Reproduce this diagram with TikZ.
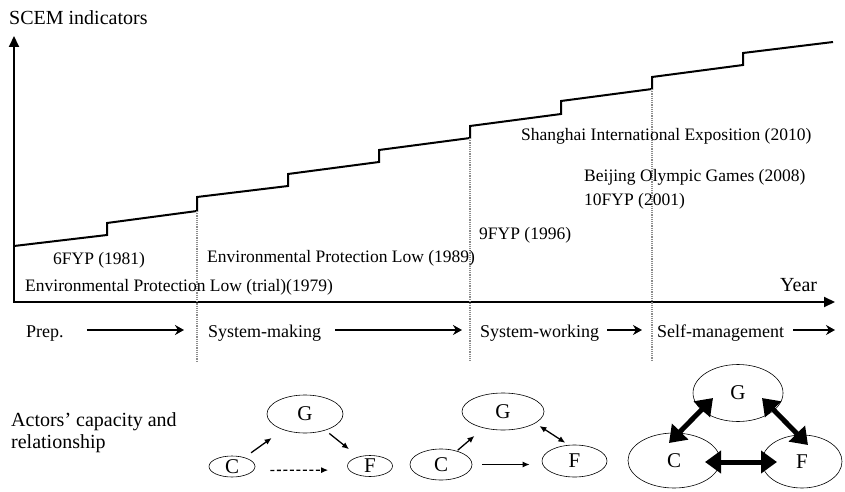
\documentclass[tikz,border=0pt]{standalone}
\usepackage{fontspec}
\setmainfont{Liberation Serif}
\usetikzlibrary{arrows.meta,positioning,shapes.geometric,calc}

\begin{document}
\begin{tikzpicture}[x=1pt,y=-1pt,
  lbl/.style={font=\fontsize{17.5}{20}\selectfont,inner sep=0pt,anchor=base west},
  biglbl/.style={font=\fontsize{20}{22}\selectfont,inner sep=0pt,anchor=base west},
  stage/.style={font=\fontsize{18}{20}\selectfont,inner sep=0pt,text height=14pt,text depth=0pt,anchor=west},
  actor/.style={ellipse,draw,line width=0.6pt,inner sep=0pt,font=\fontsize{21}{24}\selectfont},
  axis/.style={line width=2pt,{Triangle[length=11pt,width=10pt]}-{Triangle[length=11pt,width=10pt]}},
  stagearr/.style={line width=2.2pt,-{Stealth[length=9pt,width=10pt]}},
  smallarr/.style={line width=1.3pt,-{Latex[length=7pt,width=6pt]}},
  bigarr/.style={line width=5pt,{Triangle[length=16pt,width=22pt]}-{Triangle[length=16pt,width=22pt]}}]
% Define colors
\definecolor{phasegray}{RGB}{140,140,140}

\useasboundingbox (0,0) rectangle (845,492);

% Axes
\coordinate (ytop) at (14,36);
\coordinate (origin) at (14,302);
\coordinate (xend) at (835,302);
\draw[axis] (ytop) -- (origin) -- (xend);
\node[biglbl] (ylab) at (9,25) {SCEM indicators};
\node[biglbl] (xlab) at (780,291.7) {Year};

% SCEM indicator steps
\draw[line width=2pt,line join=miter] (14,246) -- (107,235) -- (107,223) -- (197,211) -- (197,197)
  -- (288,186) -- (288,174) -- (379,162) -- (379,150) -- (470,138) -- (470,126)
  -- (561,114) -- (561,101) -- (652,89) -- (652,77) -- (743,65) -- (743,53) -- (833,42);

% Phase borders
\coordinate (m1) at (197,211);
\coordinate (m2) at (470,138);
\coordinate (m3) at (652,89);
\coordinate (low) at (0,361);
\draw[phasegray,line width=1.2pt,densely dotted] (m1) -- (m1 |- low);
\draw[phasegray,line width=1.2pt,densely dotted] (m2) -- (m2 |- low);
\draw[phasegray,line width=1.2pt,densely dotted] (m3) -- (m3 |- low);

% Events
\node[lbl] (fyp6) at (53,264) {6FYP (1981)};
\node[lbl] (eplt) at (25,291.5) {Environmental Protection Low (trial)(1979)};
\node[lbl] (epl) at (207,262.5) {Environmental Protection Low (1989)};
\node[lbl] (fyp9) at (479,239) {9FYP (1996)};
\node[lbl] (fyp10) at (584,205) {10FYP (2001)};
\node[lbl] (olymp) at (584,181) {Beijing Olympic Games (2008)};
\node[lbl] (expo) at (521,140.5) {Shanghai International Exposition (2010)};

% Phases
\node[stage] (prep) at (26,330) {Prep.};
\node[stage] (making) at (208,330) {System-making};
\node[stage] (working) at (480,330) {System-working};
\node[stage] (selfm) at (657,330) {Self-management};
\coordinate (tend) at (835,330);
\draw[stagearr,shorten <=23pt,shorten >=24pt] (prep) -- (making);
\draw[stagearr,shorten <=14pt,shorten >=18pt] (making) -- (working);
\draw[stagearr,shorten <=8pt,shorten >=15pt] (working) -- (selfm);
\draw[stagearr,shorten <=9pt] (selfm) -- (tend);

% Actors
\node[font=\fontsize{20}{22}\selectfont,align=left,anchor=west,inner sep=0pt] (actors) at (11,433)
  {Actors’ capacity and\\relationship};

% first phase
\node[actor,minimum width=76pt,minimum height=38pt] (g1) at (305,414) {G};
\node[actor,minimum width=46pt,minimum height=21pt] (c1) at (232,466.5) {C};
\node[actor,minimum width=45pt,minimum height=21pt] (f1) at (370,466) {F};
\draw[smallarr,shorten <=8pt,shorten >=14pt] (c1) -- (g1);
\draw[smallarr,shorten <=5pt,shorten >=12pt] (g1) -- (f1);
\draw[smallarr,dash pattern=on 4pt off 2.5pt,shorten <=15pt,shorten >=19pt]
  ([yshift=-4pt]c1.east) -- ([yshift=-4pt]f1.west);

% second phase
\node[actor,minimum width=82pt,minimum height=37pt] (g2) at (503,411.5) {G};
\node[actor,minimum width=62pt,minimum height=31pt] (c2) at (441,464.5) {C};
\node[actor,minimum width=65pt,minimum height=32pt] (f2) at (574.5,461) {F};
\draw[smallarr,shorten <=1pt,shorten >=12pt] (c2) -- (g2);
\draw[smallarr,{Latex[length=7pt,width=6pt]}-{Latex[length=7pt,width=6pt]},shorten <=5pt,shorten >=4pt] (g2.-20) -- (f2.110);
\draw[smallarr,shorten <=10pt,shorten >=12pt] (c2.east) -- (f2.west |- c2.east);

% third phase
\node[actor,minimum width=90pt,minimum height=57pt] (g3) at (738,393) {G};
\node[actor,minimum width=92pt,minimum height=55pt] (c3) at (674,460.5) {C};
\node[actor,minimum width=80pt,minimum height=53pt] (f3) at (802,461.5) {F};
\draw[bigarr] ($(c3)+(-5,-17.5)$) -- ($(g3)+(-25,5)$);
\draw[bigarr] ($(g3)+(24,5)$) -- ($(f3)+(6,-16.5)$);
\draw[bigarr] ($(c3)+(31,1.5)$) -- ($(f3)+(-25,0.5)$);
\end{tikzpicture}
\end{document}
